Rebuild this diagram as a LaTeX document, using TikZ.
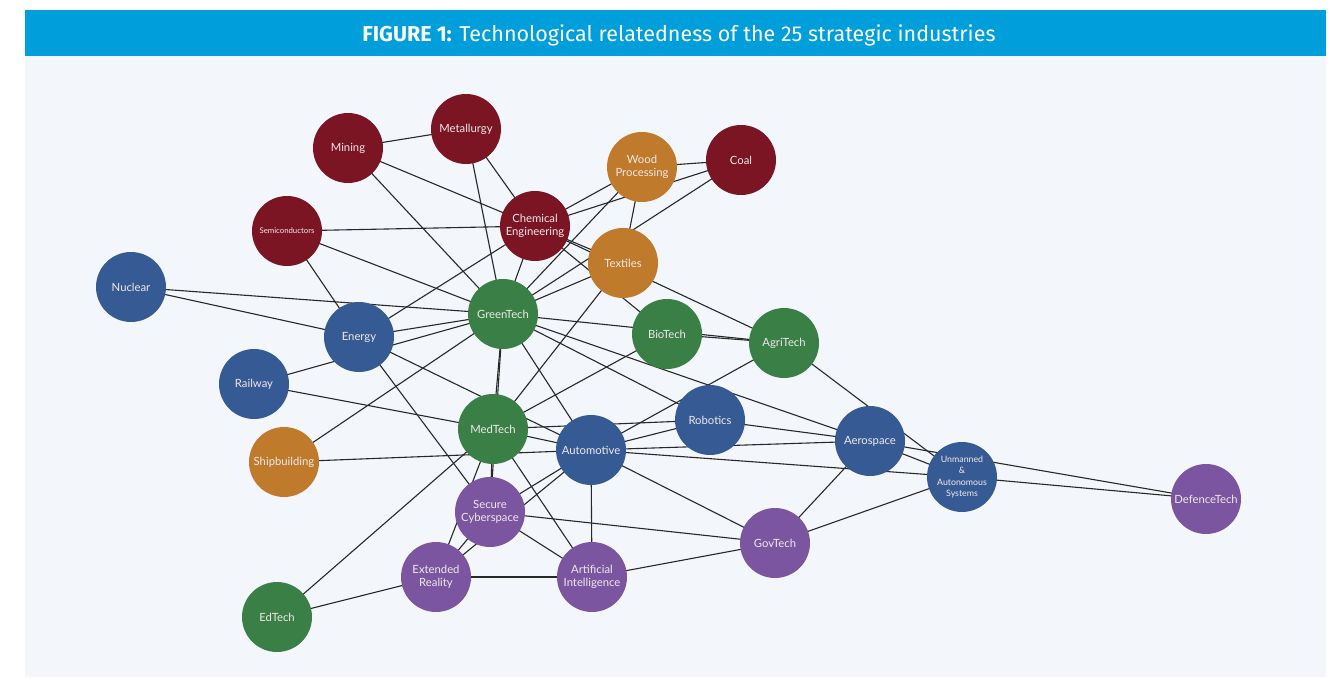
\documentclass[tikz,border=0pt]{standalone}
\usepackage{fontspec}
\setmainfont{Lato}
\newfontfamily\titlefont{Fira Sans}
\definecolor{panelbg}{RGB}{243,246,251}
\definecolor{headblue}{RGB}{0,158,219}
\definecolor{indred}{RGB}{123,20,35}
\definecolor{indorange}{RGB}{192,122,43}
\definecolor{indblue}{RGB}{54,91,148}
\definecolor{indgreen}{RGB}{58,127,69}
\definecolor{indpurple}{RGB}{123,85,160}
\definecolor{linkgrey}{RGB}{40,40,40}
\definecolor{labeltext}{RGB}{240,232,236}
\pgfdeclarelayer{bg}
\pgfsetlayers{bg,main}
\begin{document}
\begin{tikzpicture}[x=1pt,y=-1pt,
  ind/.style={circle, minimum size=70pt, inner sep=0pt, text=labeltext,
    align=center, font=\fontsize{11.3}{13.5}\selectfont},
  red/.style={ind, fill=indred},
  orange/.style={ind, fill=indorange},
  blue/.style={ind, fill=indblue},
  green/.style={ind, fill=indgreen},
  purple/.style={ind, fill=indpurple},
  link/.style={draw=linkgrey, line width=1.1pt}]
\useasboundingbox (0,0) rectangle (1335,677);
\begin{pgfonlayer}{bg}
  \fill[white] (0,0) rectangle (1335,677);
  \fill[panelbg] (25,56) rectangle (1326,677);
  \fill[headblue] (25,10) rectangle (1326,56);
\end{pgfonlayer}
\node[text=white, font=\titlefont\fontsize{21.5}{25}\selectfont] (title) at (679,35)
  {\textbf{FIGURE 1:} Technological relatedness of the 25 strategic industries};

% industries
\node[red]    (M)  at (348,148) {Mining};
\node[red]    (Me) at (466,129) {Metallurgy};
\node[orange] (W)  at (642,167) {Wood\\Processing};
\node[red]    (C)  at (741,160) {Coal};
\node[red]    (CE) at (535,226) {Chemical\\Engineering};
\node[red, font=\fontsize{7.8}{9}\selectfont] (S) at (287,231) {Semiconductors};
\node[orange] (T)  at (623,263) {Textiles};
\node[blue]   (N)  at (131,287) {Nuclear};
\node[green]  (G)  at (503,314) {GreenTech};
\node[green]  (B)  at (667,334) {BioTech};
\node[green]  (A)  at (784,343) {AgriTech};
\node[blue]   (E)  at (359,337) {Energy};
\node[blue]   (R)  at (254,384) {Railway};
\node[green]  (Md) at (493,429) {MedTech};
\node[blue]   (Ro) at (710,420) {Robotics};
\node[blue]   (Au) at (591,450) {Automotive};
\node[blue]   (Ae) at (870,441) {Aerospace};
\node[orange] (Sh) at (284,462) {Shipbuilding};
\node[blue, font=\fontsize{8.8}{11.2}\selectfont] (U) at (962,477) {Unmanned\\\&\\Autonomous\\Systems};
\node[purple] (D)  at (1206,499) {DefenceTech};
\node[purple] (SC) at (490,512) {Secure\\Cyberspace};
\node[purple] (Gv) at (775,543) {GovTech};
\node[purple] (X)  at (436,577) {Extended\\Reality};
\node[purple] (AI) at (592,577) {Artificial\\Intelligence};
\node[green]  (Ed) at (277,617) {EdTech};

% relatedness links
\begin{pgfonlayer}{bg}
\foreach \a/\b in {M/Me, M/CE, M/G, Me/G, Me/CE, S/CE, S/G, S/E, CE/E, CE/G,
    CE/W, CE/C, CE/T, CE/A, CE/B, W/C, W/T, W/G, G/C, G/T,
    N/G, N/E, R/G, E/G, E/Au, E/SC, R/Md, Sh/G, Sh/Au, Ed/Md, Ed/X,
    G/A, B/A, G/Ro, G/Ae, G/Au, G/Md, G/SC, Md/SC, Md/T, Md/B, Md/Ro,
    Md/Au, Md/AI, Md/X, Au/A, Au/Ro, Au/Ae, Au/U, Au/Gv, Au/AI, Au/SC,
    X/Au, X/SC, Ro/Ae, A/U, Ae/U, Ae/D, Ae/Gv, U/D, Gv/U,
    SC/AI, SC/Gv, X/AI, AI/Gv}
  \draw[link] (\a.center) -- (\b.center);
\end{pgfonlayer}
\end{tikzpicture}
\end{document}
